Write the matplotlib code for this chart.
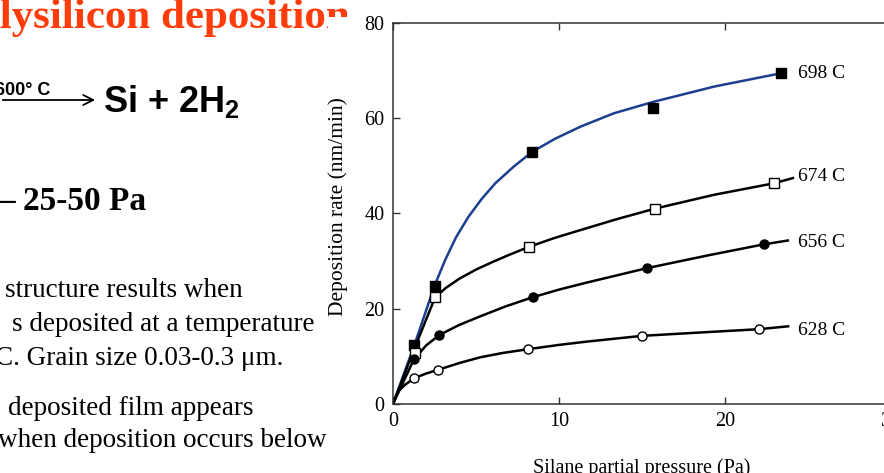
import numpy as np
import matplotlib
matplotlib.use("Agg")
import matplotlib.pyplot as plt
from matplotlib.patches import Rectangle, FancyArrowPatch

plt.rcParams["mathtext.fontset"] = "custom"
plt.rcParams["mathtext.rm"] = "Liberation Sans:bold"
plt.rcParams["mathtext.bf"] = "Liberation Sans:bold"

#################### data #############################################
# measured points (silane partial pressure in Pa, deposition rate in nm/min)
x698 = [1.29, 2.50, 8.38, 15.69, 23.38]
y698 = [12.4, 24.8, 52.9, 62.2, 69.4]
x674 = [1.33, 2.54, 8.22, 15.79, 22.94]
y674 = [10.6, 22.4, 33.0, 41.0, 46.3]
x656 = [1.29, 2.80, 8.42, 15.29, 22.34]
y656 = [9.4, 14.5, 22.4, 28.5, 33.5]
x628 = [1.27, 2.74, 8.14, 15.0, 22.07]
y628 = [5.4, 7.1, 11.5, 14.3, 15.7]

# fitted curves
fit698_x = [0, 1.29, 2.50, 3.14, 3.8, 4.55, 5.36, 6.16, 7.27, 8.38, 9.79, 11.30, 13.31, 15.69, 19.35, 23.38]
fit698_y = [0, 12.4, 24.8, 30.2, 35.0, 39.3, 43.1, 46.3, 49.8, 52.9, 55.7, 58.2, 61.0, 63.4, 66.6, 69.4]
fit674_x = [0, 1.25, 2.54, 3.2, 4.0, 5.0, 6.0, 7.0, 8.22, 9.7, 11.3, 13.5, 15.79, 19.35, 22.94, 24.09]
fit674_y = [0, 11.3, 22.4, 24.4, 26.3, 28.2, 29.8, 31.3, 33.0, 34.8, 36.5, 38.8, 41.0, 43.9, 46.3, 47.4]
fit656_x = [0, 1.25, 2.00, 2.80, 4.0, 5.26, 6.8, 8.42, 10.0, 11.7, 13.5, 15.29, 19.0, 22.34, 23.79]
fit656_y = [0, 9.3, 12.3, 14.5, 16.6, 18.4, 20.5, 22.4, 24.0, 25.5, 27.0, 28.5, 31.2, 33.5, 34.3]
fit628_x = [0, 0.30, 0.71, 1.27, 2.0, 2.74, 4.0, 5.26, 6.6, 8.14, 10.0, 11.7, 15.0, 18.5, 22.07, 23.8]
fit628_y = [0, 2.6, 4.0, 5.4, 6.4, 7.2, 8.6, 9.8, 10.7, 11.5, 12.4, 13.1, 14.3, 15.0, 15.7, 16.3]

labels = ["698 C", "674 C", "656 C", "628 C"]
label_y = [69.4, 47.8, 33.8, 15.5]
########################################################################

serif = "Liberation Serif"
sans = "Liberation Sans"
title_color = "#ff3c0a"
blue = "#1b3f8e"

fig = plt.figure(figsize=(8.84, 4.73), dpi=100)
fig.patch.set_facecolor("white")
W, H = 884.0, 473.0

# slide text on the left (cut off by the frame)
fig.text(-48 / W, 1 - 28 / H, "Polysilicon deposition", fontsize=31, fontweight="bold",
         family=serif, color=title_color, ha="left", va="baseline", zorder=3)

fig.text(-5 / W, 1 - 95 / H, "600° C", fontsize=13, fontweight="bold", family=sans,
         ha="left", va="baseline")
fig.add_artist(FancyArrowPatch((0, 1 - 100 / H), (98 / W, 1 - 100 / H), transform=fig.transFigure,
                               arrowstyle="->", mutation_scale=18, lw=1.3, color="black"))
fig.text(103 / W, 1 - 112 / H, "Si + 2H$_2$", fontsize=26, fontweight="bold", family=sans,
         ha="left", va="baseline")

fig.text(-2 / W, 1 - 210 / H, "– 25-50 Pa", fontsize=24, fontweight="bold", family=serif,
         ha="left", va="baseline")

body = [("structure results when", 5, 297),
        ("s deposited at a temperature", 12, 331),
        ("C. Grain size 0.03-0.3 μm.", -5, 365),
        ("deposited film appears", 8, 415),
        ("when deposition occurs below", -2, 447)]
for txt, bx, by in body:
    fig.text(bx / W, 1 - by / H, txt, fontsize=19.5, family=serif, ha="left", va="baseline")

# white frame of the pasted chart hides the end of the title
fig.add_artist(Rectangle((328 / W, 0), 1, 1 - 17 / H, transform=fig.transFigure,
                         facecolor="white", edgecolor="none", zorder=4))

# chart
ax = fig.add_axes([393 / W, 1 - 404 / H, (891 - 393) / W, (404 - 22.7) / H])
ax.set_zorder(5)

ax.plot(fit698_x, fit698_y, color=blue, lw=1.8, zorder=2)
ax.plot(fit674_x, fit674_y, color="black", lw=1.8, zorder=2)
ax.plot(fit656_x, fit656_y, color="black", lw=1.8, zorder=2)
ax.plot(fit628_x, fit628_y, color="black", lw=1.8, zorder=2)

ax.plot(x698, y698, "s", color="black", ms=7.5, zorder=3)
ax.plot(x674, y674, "s", mfc="white", mec="black", mew=1.0, ms=7.5, zorder=3)
ax.plot(x656, y656, "o", color="black", ms=6.5, zorder=3)
ax.plot(x628, y628, "o", mfc="white", mec="black", mew=1.0, ms=6.5, zorder=3)

for lab, ly in zip(labels, label_y):
    ax.text(24.39, ly, lab, fontsize=14, family=serif, ha="left", va="center")

ax.set_xlim(0, 30)
ax.set_ylim(0, 80)
ax.set_xticks([0, 10, 20, 30])
ax.set_yticks([0, 20, 40, 60, 80])
ax.tick_params(direction="in", length=5, width=1.0, top=True, right=True,
               labelsize=14.5, pad=6, color="#333333")
for lab in ax.get_xticklabels() + ax.get_yticklabels():
    lab.set_family(serif)
for sp in ax.spines.values():
    sp.set_linewidth(1.1)
    sp.set_color("#333333")

ax.set_xlabel("Silane partial pressure (Pa)", fontsize=14.5, family=serif)
ax.set_ylabel("Deposition rate (nm/min)", fontsize=15.5, family=serif)
ax.xaxis.set_label_coords(0.5, (404 - 458) / 381.3)
ax.yaxis.set_label_coords((348 - 393) / 498.0, 0.517)

plt.savefig("out.png", dpi=100)
